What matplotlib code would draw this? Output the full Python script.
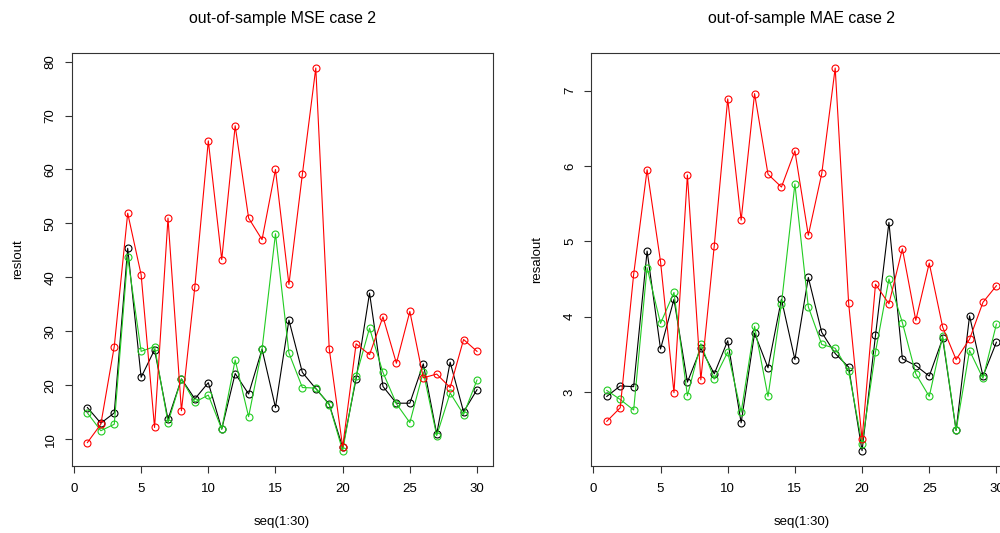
import numpy as np
import matplotlib.pyplot as plt

plt.rcParams['font.family'] = ['Liberation Sans', 'DejaVu Sans']

seq = np.arange(1, 31)

# out-of-sample MSE, three models
mse_black = [15.9, 13.0, 14.9, 45.4, 21.5, 26.6, 13.7, 21.2, 17.5, 20.5,
             11.9, 22.2, 18.4, 26.7, 15.9, 32.1, 22.4, 19.4, 16.5, 8.5,
             21.2, 37.1, 19.8, 16.7, 16.7, 24.0, 11.0, 24.3, 15.1, 19.2]
mse_red = [9.4, 12.8, 27.2, 51.9, 40.5, 12.2, 51.0, 15.3, 38.3, 65.3,
           43.3, 68.1, 51.0, 47.0, 60.0, 38.7, 59.1, 78.8, 26.8, 8.6,
           27.7, 25.7, 32.7, 24.1, 33.7, 21.4, 22.1, 19.6, 28.5, 26.3]
mse_green = [14.9, 11.6, 12.8, 43.8, 26.3, 27.2, 13.1, 21.2, 16.9, 18.2,
             11.9, 24.7, 14.2, 26.7, 48.1, 26.0, 19.6, 19.5, 16.4, 7.9,
             21.7, 30.6, 22.4, 16.6, 13.1, 22.5, 10.7, 18.6, 14.6, 21.0]

# out-of-sample MAE, same three models
mae_black = [2.94, 3.08, 3.07, 4.87, 3.57, 4.23, 3.13, 3.58, 3.24, 3.68,
             2.59, 3.78, 3.32, 4.23, 3.43, 4.52, 3.79, 3.51, 3.33, 2.22,
             3.75, 5.25, 3.44, 3.35, 3.21, 3.71, 2.49, 4.01, 3.21, 3.66]
mae_red = [2.61, 2.79, 4.56, 5.95, 4.73, 2.99, 5.88, 3.16, 4.94, 6.89,
           5.28, 6.96, 5.89, 5.72, 6.20, 5.08, 5.90, 7.30, 4.18, 2.37,
           4.43, 4.17, 4.90, 3.95, 4.71, 3.86, 3.43, 3.70, 4.19, 4.41]
mae_green = [3.02, 2.90, 2.76, 4.65, 3.91, 4.32, 2.95, 3.64, 3.17, 3.53,
             2.73, 3.87, 2.94, 4.17, 5.76, 4.13, 3.63, 3.58, 3.28, 2.31,
             3.53, 4.50, 3.92, 3.24, 2.94, 3.74, 2.49, 3.55, 3.18, 3.90]

panels = [
    ('out-of-sample MSE case 2', 'reslout', [mse_black, mse_green, mse_red], np.arange(10, 81, 10)),
    ('out-of-sample MAE case 2', 'resalout', [mae_black, mae_green, mae_red], np.arange(3, 8, 1)),
]
colors = ['black', '#22cc22', 'red']

W, H = 1000, 533
fig = plt.figure(figsize=(W / 100, H / 100), dpi=100)

# base-graphics style layout, second panel runs past the right edge
lefts = [71.8, 591.2]
ax_w, ax_top, ax_bot = 420.8, 52.7, 466.0

for left, (title, ylab, series, yt) in zip(lefts, panels):
    ax = fig.add_axes([left / W, 1 - ax_bot / H, ax_w / W, (ax_bot - ax_top) / H])
    for y, c in zip(series, colors):
        ax.plot(seq, y, color=c, lw=0.8, marker='o', ms=5.0,
                mfc='none', mec=c, mew=0.8)

    allv = np.concatenate([np.asarray(s) for s in series])
    lo, hi = allv.min(), allv.max()
    pad = 0.04 * (hi - lo)
    ax.set_ylim(lo - pad, hi + pad)
    ax.set_xlim(1 - 0.04 * 29, 30 + 0.04 * 29)

    ax.set_xticks(np.arange(0, 31, 5))
    ax.set_yticks(yt)
    ax.tick_params(direction='out', length=5, width=0.8, labelsize=9.5, color='#333333')
    ax.tick_params(axis='x', pad=7)
    ax.tick_params(axis='y', pad=6)
    for lab in ax.get_yticklabels():
        lab.set_rotation(90)
        lab.set_va('center')
    for s in ax.spines.values():
        s.set_linewidth(0.8)
        s.set_color('#333333')

    ax.set_xlabel('seq(1:30)', fontsize=9.5, va='center')
    ax.xaxis.set_label_coords(0.5, -56 / (ax_bot - ax_top))
    ax.set_ylabel(ylab, fontsize=9.5, va='center')
    ax.yaxis.set_label_coords(-54 / ax_w, 0.5)
    ax.set_title(title, fontsize=11.4, y=1 + 33.7 / (ax_bot - ax_top), va='center', pad=0)

plt.savefig('out.png', dpi=100)
